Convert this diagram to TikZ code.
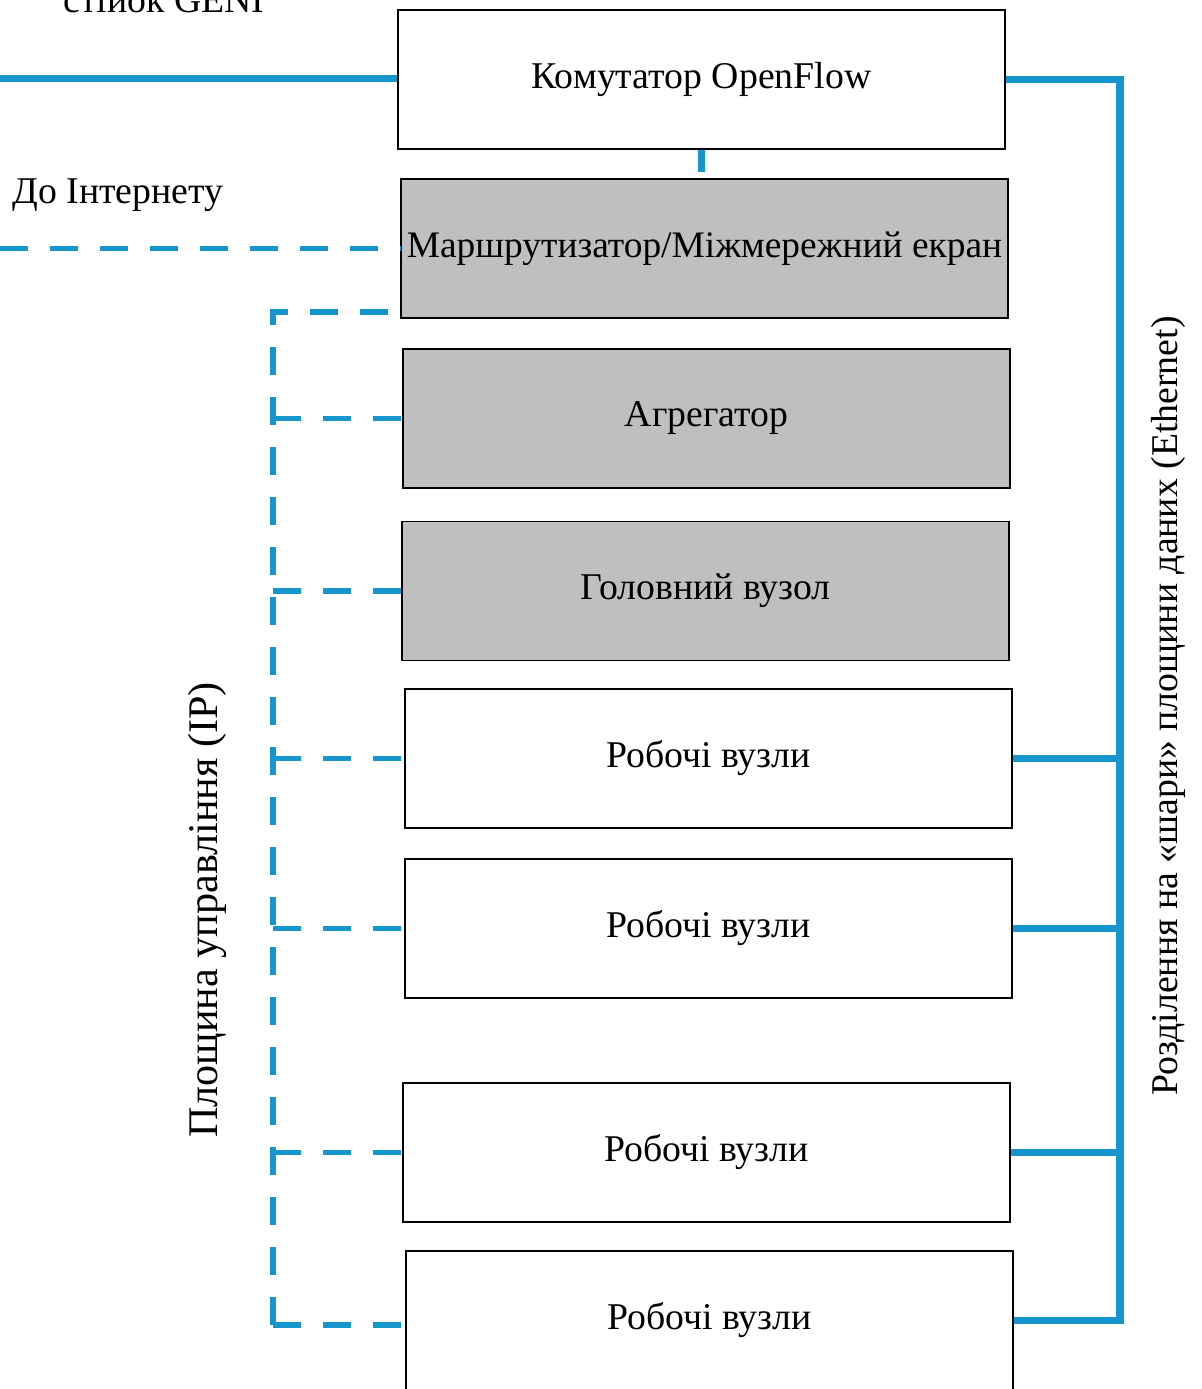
\documentclass[tikz,border=0pt]{standalone}
\usepackage{fontspec}
\setmainfont{Liberation Serif}
\usetikzlibrary{calc}

\definecolor{netblue}{RGB}{22,150,205}
\definecolor{boxgray}{RGB}{191,191,191}

\tikzset{
    unitbox/.style={draw=black, line width=1.1pt, fill=white,
        minimum width=607*0.02cm, minimum height=139*0.02cm, inner sep=0pt,
        font=\fontsize{21.5}{26}\selectfont},
    graybox/.style={unitbox, fill=boxgray},
    datalink/.style={netblue, line width=4.5pt},
    ctrllink/.style={netblue, line width=3.2pt, dash pattern=on 0.56cm off 0.44cm},
    sidelabel/.style={font=\fontsize{21.5}{26}\selectfont, inner sep=0pt}
}

\begin{document}
\begin{tikzpicture}[x=0.02cm, y=-0.02cm]

    \useasboundingbox (0,0) rectangle (1201,1389);

    % ==========================================
    % 1. BOXES (one per rack element)
    % ==========================================
    \node[unitbox] (Switch) at (701.5, 79.5)  {Комутатор OpenFlow};
    \node[graybox, font=\fontsize{21.3}{26}\selectfont] (Router) at (704.5, 248.5)
        {Маршрутизатор/Міжмережний екран};
    \node[graybox] (Aggr)   at (706.5, 418.5) {Агрегатор};
    \node[graybox] (Head)   at (705.5, 591)   {Головний вузол};
    \node[unitbox] (WorkA)  at (708.5, 758.5) {Робочі вузли};
    \node[unitbox] (WorkB)  at (708.5, 928.5) {Робочі вузли};
    \node[unitbox] (WorkC)  at (706.5, 1152.5) {Робочі вузли};
    \node[unitbox] (WorkD)  at (709.5, 1320.5) {Робочі вузли};

    % ==========================================
    % 2. COORDINATES FOR THE BUSES
    % ==========================================
    % Free ends at the left page edge
    \coordinate (GeniEnd) at (0, 78.5);
    \coordinate (NetEnd)  at (0, 248.5);

    % Control bus (dashed) runs at x=273, data bus (solid) at x=1120
    \coordinate (CtrlTop) at (273, 312);
    \coordinate (CtrlBot) at (273, 1325);
    \coordinate (DataX)   at (1120, 0);

    % ==========================================
    % 3. DATA PLANE (solid blue)
    % ==========================================
    \draw[datalink] (GeniEnd) -- (GeniEnd -| Switch.west);
    \draw[datalink, shorten >=0.12cm] (Switch.south) -- (Switch.south |- Router.north);

    \draw[datalink, line join=miter]
        (Switch.east) -- (Switch.east -| DataX) -- (DataX |- WorkD.east) -- (WorkD.east);
    \foreach \n in {WorkA, WorkB, WorkC}
        \draw[datalink] (\n.east) -- (DataX |- \n.east);

    % ==========================================
    % 4. CONTROL PLANE (dashed blue)
    % ==========================================
    \draw[ctrllink] (NetEnd) -- (Router.west);

    \draw[ctrllink] (CtrlBot) -- (CtrlTop) -- (CtrlTop -| Router.west);
    \foreach \n in {Aggr, Head, WorkA, WorkB, WorkC}
        \draw[ctrllink] (CtrlTop |- \n.west) -- (\n.west);
    \draw[ctrllink] (CtrlBot) -- (CtrlBot -| WorkD.west);

    % ==========================================
    % 5. LABELS
    % ==========================================
    \node[sidelabel, anchor=base] (GeniLbl) at (164, 13) {стійок GENI};
    \node[sidelabel, anchor=base west] (NetLbl) at (12, 203) {До Інтернету};

    \node[sidelabel, rotate=90, font=\fontsize{24}{28}\selectfont] (CtrlLbl)
        at (207, 910) {Площина управління (IP)};
    \node[sidelabel, rotate=90] (DataLbl) at (1168, 706)
        {Розділення на «шари» площини даних (Ethernet)};

\end{tikzpicture}
\end{document}
